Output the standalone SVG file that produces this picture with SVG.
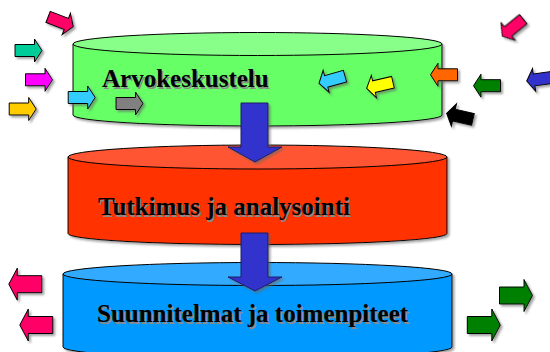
<svg xmlns="http://www.w3.org/2000/svg" xmlns:xlink="http://www.w3.org/1999/xlink" width="550" height="352" viewBox="0 0 550 352">
  <style>
    .edge { stroke: #000; stroke-width: 1; }
    .label { font-family: "Liberation Serif", "Times New Roman", serif; font-weight: bold; font-size: 25px; fill: #000; }
    .label-shadow { font-family: "Liberation Serif", "Times New Roman", serif; font-weight: bold; font-size: 25px; fill: #8a8a8a; }
    .flow { stroke: #000; stroke-width: 1; stroke-linejoin: miter; }
    .bigarrow { fill: #3333CC; stroke: #1a1a66; stroke-width: 1; }
  </style>
  <defs>
    <filter id="shadow" x="-10%" y="-10%" width="130%" height="140%">
      <feGaussianBlur in="SourceAlpha" stdDeviation="1"/>
      <feOffset dx="2" dy="2" result="off"/>
      <feFlood flood-color="#666" flood-opacity="0.6"/>
      <feComposite in2="off" operator="in"/>
      <feMerge>
        <feMergeNode/>
        <feMergeNode in="SourceGraphic"/>
      </feMerge>
    </filter>
    <!-- small block arrow, pointing right, centred on the origin -->
    <path id="arrow-s" d="M-13.5,-6 H6 V-11.5 L13.5,0 L6,11.5 V6 H-13.5 Z"/>
    <!-- larger block arrow, pointing right, centred on the origin -->
    <path id="arrow-l" d="M-16.5,-8.5 H8 V-16 L16.5,0 L8,16 V8.5 H-16.5 Z"/>
  </defs>

  <rect width="550" height="352" fill="#fff"/>

  <!-- top level: discussion of values -->
  <g id="arvokeskustelu" filter="url(#shadow)">
    <path class="edge" fill="#66FF66" d="M73,44 V115 A184.5,11 0 0 0 442,115 V44 Z"/>
    <ellipse class="edge" fill="#88FF88" cx="257.5" cy="44" rx="184.5" ry="11.5"/>
  </g>
  <text class="label-shadow" x="103.5" y="88.5">Arvokeskustelu</text>
  <text class="label" x="102" y="87">Arvokeskustelu</text>

  <!-- middle level: research and analysis -->
  <g id="tutkimus" filter="url(#shadow)">
    <path class="edge" fill="#FF3300" d="M68,157 V233.5 A189.5,11 0 0 0 447,233.5 V157 Z"/>
    <ellipse class="edge" fill="#FF5533" cx="257.5" cy="157" rx="189.5" ry="12"/>
  </g>

  <!-- bottom level: plans and actions -->
  <g id="suunnitelmat" filter="url(#shadow)">
    <path class="edge" fill="#0099FF" d="M63,274 V347 A194.5,11.5 0 0 0 452,347 V274 Z"/>
    <ellipse class="edge" fill="#33AAFF" cx="257.5" cy="274" rx="194.5" ry="11.5"/>
  </g>

  <!-- downward connectors between levels -->
  <g id="connectors" filter="url(#shadow)">
    <path class="bigarrow" d="M241,103 H268 V147 H282 L255,162 L228,147 H241 Z"/>
    <path class="bigarrow" d="M241,233 H268 V277 H282 L255,291 L228,277 H241 Z"/>
  </g>

  <text class="label-shadow" x="99.5" y="216.5">Tutkimus ja analysointi</text>
  <text class="label" x="98" y="215">Tutkimus ja analysointi</text>
  <text class="label-shadow" x="98.5" y="323.5">Suunnitelmat ja toimenpiteet</text>
  <text class="label" x="97" y="322">Suunnitelmat ja toimenpiteet</text>

  <!-- incoming influences around the top level -->
  <g id="inputs" filter="url(#shadow)">
    <use xlink:href="#arrow-s" class="flow" fill="#FF0066" transform="translate(60.7,21.8) rotate(21)"/>
    <use xlink:href="#arrow-s" class="flow" fill="#00CC99" transform="translate(28.5,50.5)"/>
    <use xlink:href="#arrow-s" class="flow" fill="#FF00FF" transform="translate(39,79.8)"/>
    <use xlink:href="#arrow-s" class="flow" fill="#FFCC00" transform="translate(22.7,109)"/>
    <use xlink:href="#arrow-s" class="flow" fill="#33CCFF" transform="translate(81.7,97.5)"/>
    <use xlink:href="#arrow-s" class="flow" fill="#808080" transform="translate(129.5,103.5)"/>
    <use xlink:href="#arrow-s" class="flow" fill="#FF0066" transform="translate(512.8,27.7) rotate(141)"/>
    <use xlink:href="#arrow-s" class="flow" fill="#33CCFF" transform="translate(332,79.8) rotate(164.4)"/>
    <use xlink:href="#arrow-s" class="flow" fill="#FFFF00" transform="translate(379.8,85.3) rotate(167)"/>
    <use xlink:href="#arrow-s" class="flow" fill="#FF6600" transform="translate(444,74.8) rotate(180)"/>
    <use xlink:href="#arrow-s" class="flow" fill="#008000" transform="translate(487,85.7) rotate(180)"/>
    <use xlink:href="#arrow-s" class="flow" fill="#3333CC" transform="translate(540.1,79.1) rotate(172)"/>
    <use xlink:href="#arrow-s" class="flow" fill="#000000" transform="translate(459.8,116.4) rotate(193)"/>
  </g>

  <!-- outgoing effects from the bottom level -->
  <g id="outputs" filter="url(#shadow)">
    <use xlink:href="#arrow-l" class="flow" fill="#FF0066" transform="translate(25.3,284.2) rotate(180)"/>
    <use xlink:href="#arrow-l" class="flow" fill="#FF0066" transform="translate(36.3,325) rotate(180)"/>
    <use xlink:href="#arrow-l" class="flow" fill="#008000" transform="translate(516,295.5)"/>
    <use xlink:href="#arrow-l" class="flow" fill="#008000" transform="translate(483.8,325)"/>
  </g>
</svg>
